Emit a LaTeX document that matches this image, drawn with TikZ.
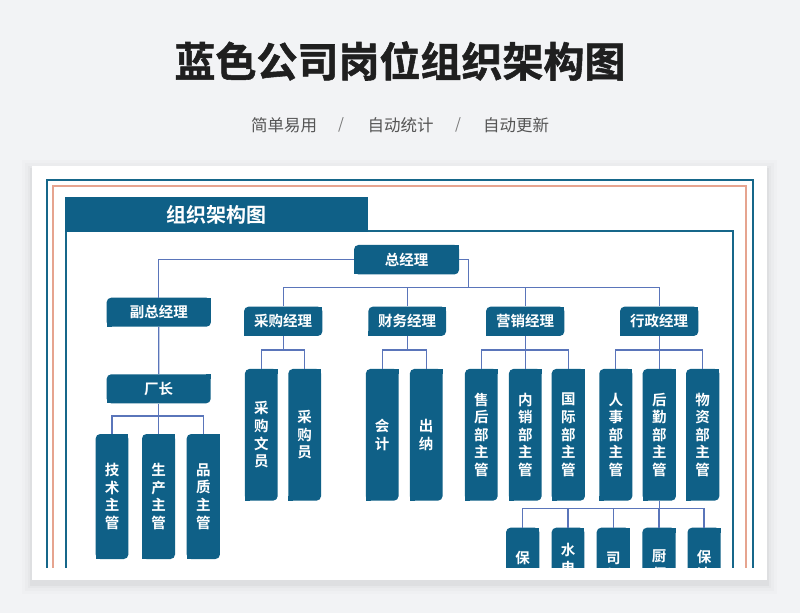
\documentclass[tikz,border=0pt]{standalone}
\usepackage{fontspec}
\setmainfont{Noto Sans CJK SC}
\newfontfamily\cjkb{Noto Sans CJK SC}[BoldFont={Noto Sans CJK SC Bold}]
\newfontfamily\titlef{Noto Sans CJK SC Bold}[FakeBold=1.3]
\definecolor{bgc}{HTML}{F2F3F5}
\definecolor{boxc}{HTML}{0F6087}
\definecolor{framec}{HTML}{16678A}
\definecolor{salmon}{HTML}{E6A48F}
\definecolor{connc}{HTML}{5A75BA}
\definecolor{subc}{HTML}{555555}
\tikzset{
  conn/.style={draw=connc,line width=1.3pt},
  boxtxt/.style={text=white,inner sep=0pt,align=center,font=\cjkb\bfseries\fontsize{14.5}{17.6}\selectfont},
}
\newcommand\obox[6]{%
  \fill[boxc,rounded corners=4.5] (#2-#4/2,#3-#5/2) rectangle (#2+#4/2,#3+#5/2);
  \fill[boxc] (#2+#4/2-5,#3-#5/2) rectangle (#2+#4/2,#3-#5/2+5);
  \fill[boxc] (#2-#4/2,#3+#5/2-5) rectangle (#2-#4/2+5,#3+#5/2);
  \node[boxtxt,minimum width=#4,minimum height=#5] (#1) at (#2,#3) {#6};
}
\begin{document}
\begin{tikzpicture}[x=1pt,y=-1pt]
\useasboundingbox (0,0) rectangle (800,613);
\fill[bgc] (0,0) rectangle (800,613);
% title
\node[font=\titlef\fontsize{41}{41}\selectfont,text=black!88,inner sep=0pt] (title) at (400,61) {蓝色公司岗位组织架构图};
\node[font=\fontsize{16.5}{16.5}\selectfont,text=subc,inner sep=0pt] (s1) at (284,125) {简单易用};
\node[font=\fontsize{15}{15}\selectfont,text=subc!80,inner sep=0pt] (sl1) at (341,125) {/};
\node[font=\fontsize{16.5}{16.5}\selectfont,text=subc,inner sep=0pt] (s2) at (400.5,125) {自动统计};
\node[font=\fontsize{15}{15}\selectfont,text=subc!80,inner sep=0pt] (sl2) at (458,125) {/};
\node[font=\fontsize{16.5}{16.5}\selectfont,text=subc,inner sep=0pt] (s3) at (516,125) {自动更新};
% card shadow
\foreach \d/\o in {10/0.01,7/0.015,4/0.02,2/0.03}{
  \fill[black,opacity=\o] (32-\d,166-\d+4) rectangle (767+\d,580+\d+4);
}
\fill[white] (32,166) rectangle (767,580);
\begin{scope}
\clip (0,0) rectangle (800,567);
% frames
\draw[framec,line width=2pt] (47,600) -- (47,180) -- (752.5,180) -- (752.5,600);
\draw[salmon,line width=2.6pt] (53,600) -- (53,186) -- (746,186) -- (746,600);
\draw[framec,line width=1.6pt] (65.8,600) -- (65.8,231) -- (732.8,231) -- (732.8,600);
\fill[boxc] (65,197) rectangle (368.3,232);
\node[font=\cjkb\bfseries\fontsize{20}{20}\selectfont,text=white,inner sep=0pt] (bar) at (216.7,215) {组织架构图};
% level 1
\obox{zjl}{406.5}{259.7}{105}{29.5}{总经理}
\obox{fz}{158.8}{312.2}{104.3}{29}{副总经理}
\obox{cg}{283.2}{321.3}{78.3}{29.3}{采购经理}
\obox{cw}{407.2}{321.3}{77.7}{29.3}{财务经理}
\obox{yx}{525.2}{321.3}{78.3}{29.3}{营销经理}
\obox{xz}{659.2}{321.3}{78.3}{29.3}{行政经理}
\obox{cz}{158.7}{388.8}{104}{29}{厂长}
% tall boxes
\obox{cgwy}{261.3}{434.8}{32.7}{131.7}{采\\购\\文\\员}
\obox{cgy}{304.7}{434.8}{32.7}{131.7}{采\\购\\员}
\obox{kj}{382.2}{434.8}{32.7}{131.7}{会\\计}
\obox{cn}{426.2}{434.8}{32.7}{131.7}{出\\纳}
\obox{sh}{481.3}{434.8}{32.7}{131.7}{售\\后\\部\\主\\管}
\obox{nx}{525.3}{434.8}{32.7}{131.7}{内\\销\\部\\主\\管}
\obox{gj}{568.3}{434.8}{33.3}{131.7}{国\\际\\部\\主\\管}
\obox{rs}{615.8}{434.8}{33}{131.7}{人\\事\\部\\主\\管}
\obox{hq}{659.3}{434.8}{33.3}{131.7}{后\\勤\\部\\主\\管}
\obox{wz}{702.7}{434.8}{33.3}{131.7}{物\\资\\部\\主\\管}
\obox{js}{112}{496.5}{32.7}{125}{技\\术\\主\\管}
\obox{sc}{158.5}{496.5}{33}{125}{生\\产\\主\\管}
\obox{pz}{203.3}{496.5}{33.3}{125}{品\\质\\主\\管}
% bottom row (cut off)
\obox{ba}{522.7}{567}{33.3}{78.6}{保\\安}
\obox{sd}{568}{567}{32.7}{78.6}{水\\电\\工}
\obox{sj}{613.3}{567}{33.3}{78.6}{司\\机}
\obox{cs}{659}{565.5}{33.3}{75.6}{厨\\师}
\obox{bj}{704}{565.5}{33}{75.6}{保\\洁}
% connectors
\coordinate (b1) at (468.3,287.3);
\draw[conn] (zjl.west) -| (fz.north);
\draw[conn] (zjl.east) -| (b1);
\draw[conn] (cg.north) -- (cg.north |- b1) -- (xz.north |- b1) -- (xz.north);
\draw[conn] (cw.north) -- (cw.north |- b1);
\draw[conn] (yx.north) -- (yx.north |- b1);
\draw[conn] (fz.south) -- (cz.north);
% second level buses
\coordinate (b2) at (0,350);
\draw[conn] (cg.south) -- (cg.south |- b2);
\draw[conn] (cgwy.north) -- (cgwy.north |- b2) -- (cgy.north |- b2) -- (cgy.north);
\draw[conn] (cw.south) -- (cw.south |- b2);
\draw[conn] (kj.north) -- (kj.north |- b2) -- (cn.north |- b2) -- (cn.north);
\draw[conn] (yx.south) -- (yx.south |- b2);
\draw[conn] (sh.north) -- (sh.north |- b2) -- (gj.north |- b2) -- (gj.north);
\draw[conn] (nx.north) -- (nx.north |- b2);
\draw[conn] (xz.south) -- (xz.south |- b2);
\draw[conn] (rs.north) -- (rs.north |- b2) -- (wz.north |- b2) -- (wz.north);
\draw[conn] (hq.north) -- (hq.north |- b2);
\coordinate (b3) at (0,416);
\draw[conn] (cz.south) -- (cz.south |- b3);
\draw[conn] (js.north) -- (js.north |- b3) -- (pz.north |- b3) -- (pz.north);
\draw[conn] (sc.north) -- (sc.north |- b3);
\coordinate (b4) at (0,508.3);
\draw[conn] (hq.south) -- (hq.south |- b4);
\draw[conn] (ba.north) -- (ba.north |- b4) -- (bj.north |- b4) -- (bj.north);
\draw[conn] (sd.north) -- (sd.north |- b4);
\draw[conn] (sj.north) -- (sj.north |- b4);
\draw[conn] (cs.north) -- (cs.north |- b4);
\end{scope}
\end{tikzpicture}
\end{document}
